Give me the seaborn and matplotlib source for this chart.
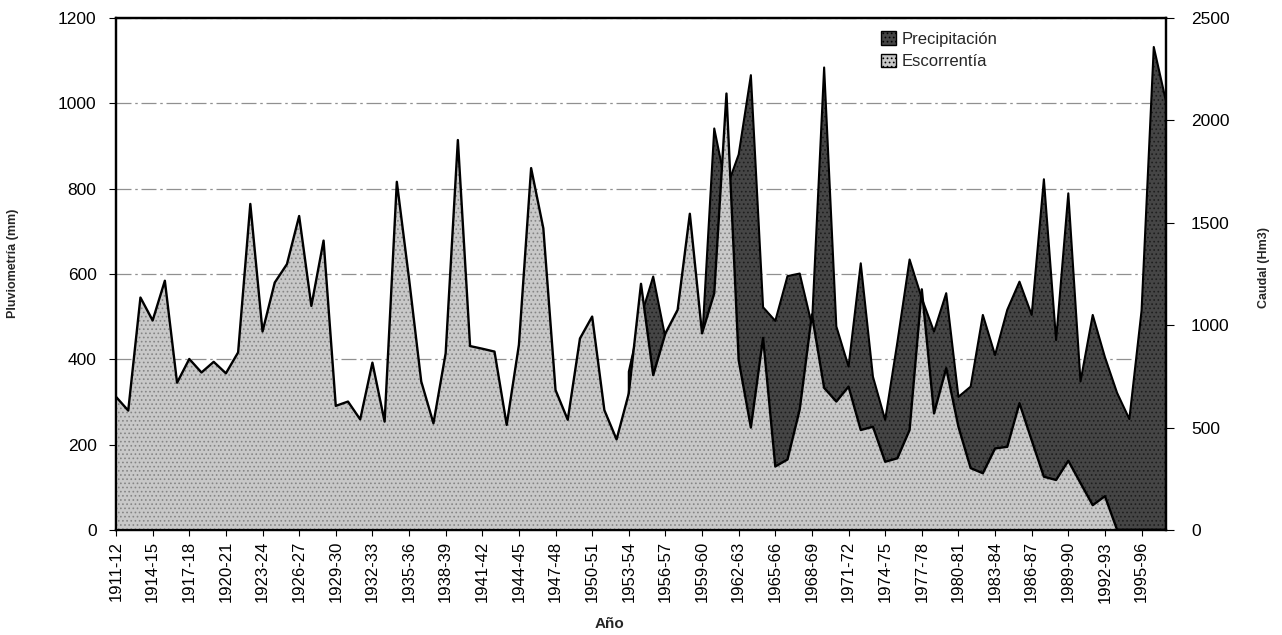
import numpy as np
import pandas as pd
import matplotlib
matplotlib.use('Agg')
import matplotlib.pyplot as plt
from matplotlib.patches import Patch
import seaborn as sns

# years 1911-12 .. 1997-98
anios = [f"{y}-{str(y + 1)[-2:]}" for y in range(1911, 1998)]
tick_pos = list(range(0, 85, 3))

# Precipitacion (mm), left axis - series starts in 1953-54
precip = [None] * 42 + [
    371, 500, 594, 450, 500, 650, 440, 941, 800, 880,
    1066, 522, 490, 595, 601, 480, 1084, 477, 383, 625,
    359, 258, 440, 634, 543, 465, 555, 312, 336, 504,
    410, 516, 582, 504, 822, 445, 789, 348, 504, 405,
    321, 260, 514, 1132, 1005]

# Escorrentia (Hm3), right axis
escorrentia = [
    650, 583, 1135, 1023, 1217, 719, 835, 769, 821, 765,
    867, 1592, 969, 1208, 1298, 1533, 1094, 1413, 606, 627,
    540, 817, 529, 1700, 1227, 725, 521, 863, 1904, 898,
    885, 871, 513, 904, 1767, 1473, 683, 538, 935, 1042,
    585, 442, 667, 1202, 756, 960, 1075, 1544, 960, 1156,
    2131, 829, 500, 938, 310, 344, 588, 1052, 694, 627,
    700, 488, 504, 333, 350, 488, 1175, 569, 790, 504,
    302, 277, 398, 406, 619, 438, 260, 244, 338, 229,
    121, 165, 0, 0, 0, 0, 0]

df = pd.DataFrame({
    'idx': np.arange(len(anios)),
    'precip': pd.to_numeric(pd.Series(precip), errors='coerce'),
    'escorrentia': escorrentia,
})

DARK = '#454545'
DARK_DOT = '#1e1e1e'
LIGHT = '#c8c8c8'
LIGHT_DOT = '#858585'

sns.set_theme(style='white')
plt.rcParams['font.family'] = ['Liberation Sans', 'DejaVu Sans']
plt.rcParams['hatch.linewidth'] = 0.7

fig = plt.figure(figsize=(12.82, 6.35), dpi=100)
ax = fig.add_axes([0.0905, 0.1654, 0.8190, 0.8063])
ax2 = ax.twinx()

# precipitation (dark) on the left axis
ax.fill_between(df['idx'], 0, df['precip'], facecolor=DARK, edgecolor=DARK_DOT,
                hatch='....', linewidth=0, zorder=2)
ax.fill_between(df['idx'], 0, df['precip'], facecolor='none', edgecolor='black',
                linewidth=1.5, zorder=3)

# runoff (light) on the right axis, drawn on top
ax2.fill_between(df['idx'], 0, df['escorrentia'], facecolor=LIGHT, edgecolor=LIGHT_DOT,
                 hatch='....', linewidth=0, zorder=2)
sns.lineplot(data=df, x='idx', y='escorrentia', ax=ax2, color='black',
             linewidth=1.7, zorder=3)

ax.set_xlim(0, len(anios) - 1)
ax.set_ylim(0, 1200)
ax2.set_ylim(0, 2500)
ax.set_yticks(range(0, 1201, 200))
ax2.set_yticks(range(0, 2501, 500))
ax.set_xticks(tick_pos)
ax.set_xticklabels([anios[i] for i in tick_pos], rotation=90)

ax.yaxis.grid(True, color='#909090', linestyle=(0, (12, 3, 2, 3)), linewidth=0.9)
ax.xaxis.grid(False)
ax2.grid(False)
ax.set_axisbelow(True)

for a in (ax, ax2):
    for s in a.spines.values():
        s.set_color('black')
        s.set_linewidth(1.6)

ax.tick_params(axis='y', left=True, length=5, width=0.8, pad=9, labelsize=12.5,
               colors='black')
ax.tick_params(axis='x', bottom=True, length=4, width=0.8, pad=4, labelsize=12,
               colors='black')
ax2.tick_params(axis='y', right=True, left=False, length=6, width=0.8, pad=12,
                labelsize=12.5, colors='black')

ax.set_xlabel('Año', fontsize=11, fontweight='bold')
ax.xaxis.set_label_coords(0.47, -0.17)
ax.set_ylabel('Pluviometría (mm)', fontsize=9, fontweight='bold')
ax.yaxis.set_label_coords(-0.092, 0.52)
ax2.set_ylabel('Caudal (Hm3)', fontsize=9, fontweight='bold')
ax2.yaxis.set_label_coords(1.088, 0.512)

handles = [
    Patch(facecolor=DARK, edgecolor='black', hatch='....', linewidth=1.0, label='Precipitación'),
    Patch(facecolor=LIGHT, edgecolor='black', hatch='....', linewidth=1.0, label='Escorrentía'),
]
fig.legend(handles=handles, loc='upper left', bbox_to_anchor=(0.681, 0.964),
           frameon=False, fontsize=12, handlelength=0.9, handleheight=0.9,
           handletextpad=0.3, labelspacing=0.4, borderpad=0)

fig.savefig('out.png', dpi=100)
